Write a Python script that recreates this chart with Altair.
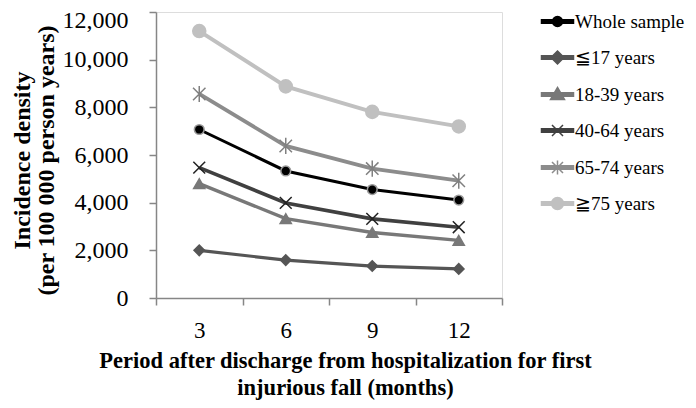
import altair as alt
import pandas as pd

periods = [3, 6, 9, 12]
series_names = ["Whole sample", "≦17 years", "18-39 years", "40-64 years", "65-74 years", "≧75 years"]
whole_sample = [7070, 5330, 4550, 4110]
age_le17 = [2000, 1590, 1340, 1220]
age_18_39 = [4800, 3330, 2750, 2420]
age_40_64 = [5470, 3990, 3320, 2970]
age_65_74 = [8560, 6380, 5430, 4920]
age_ge75 = [11200, 8880, 7810, 7200]
y_ticks = [0, 2000, 4000, 6000, 8000, 10000, 12000]
x_ticks = [1.5, 3, 4.5, 6, 7.5, 9, 10.5, 12, 13.5]

values = [whole_sample, age_le17, age_18_39, age_40_64, age_65_74, age_ge75]
rows = []
for name, vals in zip(series_names, values):
    for p, v in zip(periods, vals):
        rows.append({"period": p, "value": v, "series": name})
df = pd.DataFrame(rows)

line_colors = ["#000000", "#555555", "#787878", "#404040", "#8c8c8c", "#c0c0c0"]
line_widths = [3, 4, 4, 4, 4, 4]
marker_fill = ["#000000", "#555555", "#787878", "#222222", "#808080", "#c0c0c0"]
marker_stroke = ["#9a9a9a", "#555555", "#787878", "#222222", "#808080", "#c0c0c0"]
marker_shapes = [
    "circle",
    "diamond",
    "triangle-up",
    "M-1,-1L1,1M-1,1L1,-1",
    "M-1,-1L1,1M-1,1L1,-1M0,-1.3L0,1.3",
    "circle",
]
marker_sizes = [95, 170, 170, 144, 144, 230]

stub = "M-3.2,-0.35L3.2,-0.35L3.2,0.35L-3.2,0.35Z"


def circ(r):
    return f"M{r},0A{r},{r} 0 1,1 {-r},0A{r},{r} 0 1,1 {r},0Z"


legend_shapes = [
    stub + circ(1.0),
    stub + "M0,-1.3L1.3,0L0,1.3L-1.3,0Z",
    stub + "M0,-1.4L1.4,1L-1.4,1Z",
    stub + "M-1.1,-1.1L1.1,1.1M-1.1,1.1L1.1,-1.1",
    stub + "M-1.1,-1.1L1.1,1.1M-1.1,1.1L1.1,-1.1M0,-1.4L0,1.4",
    stub + circ(1.2),
]

FONT = "Liberation Serif"

x_enc = alt.X(
    "period:Q",
    scale=alt.Scale(domain=[1.5, 13.5], nice=False, zero=False),
    axis=alt.Axis(
        values=x_ticks,
        labelExpr="datum.value % 3 == 0 ? format(datum.value, 'd') : ''",
        tickOpacity={"condition": {"test": "datum.value % 3 == 0", "value": 0}, "value": 1},
        grid=False,
        labelOverlap=False,
        labelFlush=False,
        tickSize=7,
        labelPadding=14,
        labelFont=FONT,
        labelFontSize=23,
        title=["Period after discharge from hospitalization for first", "injurious fall (months)"],
        titleFontSize=22.5,
        titleLineHeight=27,
        titleAlign="center",
        titleBaseline="alphabetic",
        titleX=189,
        titleY=69,
    ),
)

y_enc = alt.Y(
    "value:Q",
    scale=alt.Scale(domain=[0, 12000], nice=False),
    axis=alt.Axis(
        values=y_ticks,
        labelExpr="format(datum.value, ',.0f')",
        labelOffset={"condition": {"test": "datum.value >= 12000", "value": 8}, "value": 0},
        grid=False,
        tickSize=7,
        labelPadding=21,
        labelFont=FONT,
        labelFontSize=24,
        title=["Incidence density", "(per 100 000 person years)"],
        titleFontSize=24,
        titleLineHeight=24,
        titleAngle=-90,
        titleAlign="center",
        titleBaseline="alphabetic",
        titleX=-127,
        titleY=148,
    ),
)

base = alt.Chart(df)

lines = base.mark_line().encode(
    x=x_enc,
    y=y_enc,
    color=alt.Color("series:N", scale=alt.Scale(domain=series_names, range=line_colors), legend=None),
    strokeWidth=alt.StrokeWidth("series:N", scale=alt.Scale(domain=series_names, range=line_widths), legend=None),
    detail="series:N",
)

markers = base.mark_point(filled=True, strokeWidth=1.5, opacity=1).encode(
    x=x_enc,
    y=y_enc,
    fill=alt.Fill("series:N", scale=alt.Scale(domain=series_names, range=marker_fill), legend=None),
    stroke=alt.Stroke("series:N", scale=alt.Scale(domain=series_names, range=marker_stroke), legend=None),
    shape=alt.Shape("series:N", scale=alt.Scale(domain=series_names, range=marker_shapes), legend=None),
    size=alt.Size("series:N", scale=alt.Scale(domain=series_names, range=marker_sizes), legend=None),
)

legend_def = alt.Legend(
    title=None,
    orient="none",
    legendX=392,
    legendY=0,
    padding=0,
    labelFont=FONT,
    labelFontSize=19,
    labelColor="#000000",
    symbolSize=100,
    symbolStrokeWidth=1.5,
    symbolOpacity=1,
    labelOffset=8,
    rowPadding=16,
)

legend_layer = base.mark_point(filled=True, strokeWidth=1.5, opacity=0, size=100).encode(
    x=x_enc,
    y=y_enc,
    fill=alt.Fill("series:N", scale=alt.Scale(domain=series_names, range=line_colors), legend=legend_def),
    stroke=alt.Stroke("series:N", scale=alt.Scale(domain=series_names, range=line_colors), legend=legend_def),
    shape=alt.Shape("series:N", scale=alt.Scale(domain=series_names, range=legend_shapes), legend=legend_def),
)

chart = (
    alt.layer(lines, markers, legend_layer)
    .resolve_scale(
        color="independent",
        fill="independent",
        stroke="independent",
        shape="independent",
        size="independent",
        strokeWidth="independent",
    )
    .properties(
        width=346,
        height=286,
        autosize=alt.AutoSizeParams(type="none"),
        padding={"left": 148, "top": 4, "right": 186, "bottom": 102},
        background="#ffffff",
    )
    .configure_view(stroke=None)
    .configure(font=FONT)
    .configure_axis(
        labelFont=FONT,
        titleFont=FONT,
        labelColor="#000000",
        titleColor="#000000",
        titleFontWeight="bold",
        domainColor="#868686",
        tickColor="#868686",
        domainWidth=1.5,
        tickWidth=1.5,
    )
    .configure_axisX(labelFontSize=23, labelPadding=14)
    .configure_axisY(labelFontSize=24, labelPadding=21)
    .configure_legend(labelFont=FONT, labelFontSize=19, labelColor="#000000", labelOffset=8)
)

chart.save("out.html", embed_options={"renderer": "svg", "actions": False})
